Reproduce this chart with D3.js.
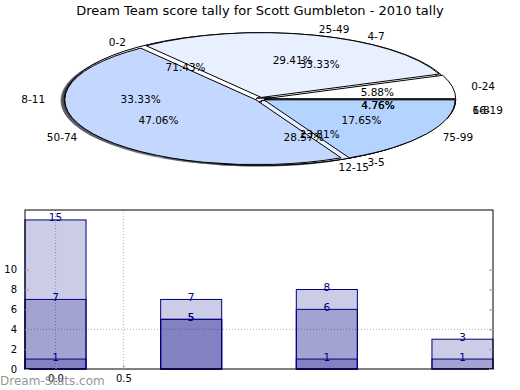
<!DOCTYPE html>
<html><head><meta charset="utf-8">
<script src="https://cdnjs.cloudflare.com/ajax/libs/d3/7.8.5/d3.min.js"></script>
<style>body{margin:0;background:#fff}svg{display:block}text{font-family:"DejaVu Sans",sans-serif}</style>
</head><body><svg id="c" width="520" height="390"></svg>
<script>
// ---- data ----
const title = "Dream Team score tally for Scott Gumbleton - 2010 tally";
const pieALabels = ["0-24","25-49","50-74","75-99"];
const pieAValues = [1,5,8,3];
const pieBLabels = ["0-2","3-5","6-8"];
const pieBValues = [15,5,1];
const pieCLabels = ["4-7","8-11","12-15","16-19"];
const pieCValues = [7,7,6,1];
const pieColors = ["#FFFFFF","#E8F0FF","#C4D8FF","#B4D4FF"];

const barPositions = [0,1,2,3];
const series1 = [15,7,8,3];
const series2 = [7,5,6,1];
const series3 = [1,5,1,0];
const yTicks = [0,2,4,6,8,10];
const xTicks = [0,0.5];
const xTickLabels = ["0.0","0.5"];
const yGrid = [4];
const watermark = "Dream-Stats.com";

const svg = d3.select("#c");

svg.append("text").attr("x",260).attr("y",10).attr("text-anchor","middle")
  .attr("dominant-baseline","central").attr("font-size",13).text(title);

// ---- pies (matplotlib-style: CCW from east, squashed into an ellipse) ----
const cx = 260, cy = 99, rx = 191, ry = 64.8, explode = 0.025;
const pies = [
  {labels: pieCLabels, values: pieCValues},
  {labels: pieBLabels, values: pieBValues},
  {labels: pieALabels, values: pieAValues}
];
const pieGen = d3.pie().sort(null).startAngle(0).endAngle(2*Math.PI);
const arcGen = d3.arc().innerRadius(0).outerRadius(1);
const pieData = pies.map(p => pieGen(p.values).map((d,i) => {
  const t0 = d.startAngle, t1 = d.endAngle, tm = (t0+t1)/2;
  return {label: p.labels[i], value: d.value, pct: d.value / d3.sum(p.values) * 100,
    t0, t1, tm, color: pieColors[i % pieColors.length],
    ox: explode*Math.cos(tm), oy: -explode*Math.sin(tm)};
}));
const wedgePath = w => arcGen({startAngle: Math.PI/2 - w.t1, endAngle: Math.PI/2 - w.t0});
const gPie = svg.append("g");
// shadows first
pieData.forEach(ws => ws.forEach(w => {
  const c = d3.rgb(w.color);
  gPie.append("path").attr("d", wedgePath(w))
    .attr("transform", `translate(${cx + (w.ox-0.02)*rx},${cy + (w.oy+0.02)*ry}) scale(${rx},${ry})`)
    .attr("fill", d3.rgb(c.r*0.3,c.g*0.3,c.b*0.3)).attr("fill-opacity",0.6).attr("stroke","none");
}));
pieData.forEach(ws => ws.forEach(w => {
  gPie.append("path").attr("d", wedgePath(w))
    .attr("transform", `translate(${cx + w.ox*rx},${cy + w.oy*ry}) scale(${rx},${ry})`)
    .attr("fill", w.color).attr("stroke","#000").attr("stroke-width",1)
    .attr("vector-effect","non-scaling-stroke").attr("stroke-linejoin","round");
}));
pieData.forEach(ws => ws.forEach(w => {
  const bx = cx + w.ox*rx, by = cy + w.oy*ry;
  const lx = bx + 1.1*rx*Math.cos(w.tm), ly = by - 1.1*ry*Math.sin(w.tm);
  gPie.append("text").attr("x",lx).attr("y",ly)
    .attr("text-anchor", Math.cos(w.tm) > 0 ? "start" : "end")
    .attr("dominant-baseline","central").attr("font-size",10.5).text(w.label);
  const px = bx + 0.6*rx*Math.cos(w.tm), py = by - 0.6*ry*Math.sin(w.tm);
  gPie.append("text").attr("x",px).attr("y",py).attr("text-anchor","middle")
    .attr("dominant-baseline","central").attr("font-size",10.5).text(w.pct.toFixed(2)+"%");
}));

// ---- bars ----
const L = 25, R = 493, T = 210, B = 369;
const x = d3.scaleLinear().domain([-0.225, 3.225]).range([L, R]);
const y = d3.scaleLinear().domain([0, 16]).range([B, T]);
const bw = 0.45;
const gB = svg.append("g");
// grid
gB.selectAll("line.gx").data(xTicks).join("line")
  .attr("x1",d=>x(d)).attr("x2",d=>x(d)).attr("y1",T).attr("y2",B)
  .attr("stroke","#b0b0b0").attr("stroke-dasharray","1,2");
gB.selectAll("line.gy").data(yGrid).join("line")
  .attr("x1",L).attr("x2",R).attr("y1",d=>y(d)).attr("y2",d=>y(d))
  .attr("stroke","#b0b0b0").attr("stroke-dasharray","1,2");
const allSeries = [series1, series2, series3];
allSeries.forEach(s => {
  gB.selectAll(null).data(s.map((v,i)=>({v, p: barPositions[i]}))).join("rect")
    .attr("x", d => x(d.p - bw/2)).attr("width", d => x(d.p + bw/2) - x(d.p - bw/2))
    .attr("y", d => y(d.v)).attr("height", d => y(0) - y(d.v))
    .attr("fill","#000080").attr("fill-opacity",0.2)
    .attr("stroke","#000080").attr("stroke-width",1);
});
allSeries.forEach(s => {
  gB.selectAll(null).data(s.map((v,i)=>({v, p: barPositions[i]})).filter(d=>d.v>0)).join("text")
    .attr("x", d => x(d.p)).attr("y", d => y(d.v) + 1.5).attr("text-anchor","middle")
    .attr("font-size",10.5).attr("fill","#000080").text(d => d.v);
});
// frame
gB.append("rect").attr("x",L).attr("y",T).attr("width",R-L).attr("height",B-T)
  .attr("fill","none").attr("stroke","#000").attr("stroke-width",1);
// y ticks
const yAxisL = d3.axisLeft(y).tickValues(yTicks).tickSize(-4).tickPadding(8).tickFormat(d3.format("d"));
const gy = gB.append("g").attr("transform",`translate(${L},0)`).call(yAxisL);
gy.select(".domain").remove();
gy.selectAll("line").attr("stroke","#999");
gy.selectAll("text").attr("font-size",10).attr("fill","#000").attr("font-family","DejaVu Sans");
const yAxisR = d3.axisRight(y).tickValues(yTicks).tickSize(-4).tickFormat("");
const gyr = gB.append("g").attr("transform",`translate(${R},0)`).call(yAxisR);
gyr.select(".domain").remove();
gyr.selectAll("line").attr("stroke","#999");
// x ticks
const xAxis = d3.axisBottom(x).tickValues(xTicks).tickSize(-4).tickPadding(6).tickFormat((d,i)=>xTickLabels[i]);
const gx = gB.append("g").attr("transform",`translate(0,${B})`).call(xAxis);
gx.select(".domain").remove();
gx.selectAll("line").attr("stroke","#999");
gx.selectAll("text").attr("font-size",10).attr("fill","#000").attr("font-family","DejaVu Sans");

svg.append("text").attr("x",0).attr("y",385).attr("font-size",12).attr("fill","#888")
  .attr("fill-opacity",0.9).text(watermark);
</script></body></html>
